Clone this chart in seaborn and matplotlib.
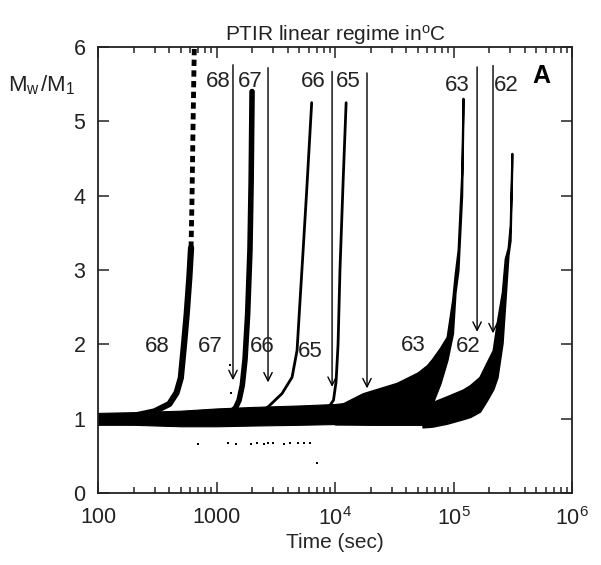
import matplotlib
matplotlib.use("Agg")
import matplotlib.pyplot as plt
import seaborn as sns

# ---- data (time in sec, Mw/M1) ----
# common flat band near Mw/M1 = 1
base_x = [100, 200, 500, 1000, 2000, 5000, 10000, 20000, 55000]
base_lo = [0.92, 0.92, 0.90, 0.90, 0.91, 0.92, 0.93, 0.92, 0.92]
base_hi = [1.08, 1.09, 1.11, 1.14, 1.16, 1.18, 1.2, 1.25, 1.35]

# 68 C
c68_x = [100, 200, 300, 400, 460, 500, 532, 560, 590, 610]
c68_y = [1.0, 1.04, 1.1, 1.2, 1.35, 1.55, 2.0, 2.4, 2.9, 3.3]
c68_dot_x = [610, 622, 632, 642, 650]
c68_dot_y = [3.3, 4.0, 4.8, 5.5, 6.0]

# 67 C
c67_x = [1000, 1250, 1450, 1550, 1650, 1740, 1830, 1915, 1960, 1995]
c67_y = [1.0, 1.05, 1.15, 1.25, 1.45, 1.8, 2.4, 3.27, 4.2, 5.4]

# 66 C
c66_x = [2000, 2720, 3570, 4340, 4780, 5070, 5380, 5770, 6350]
c66_y = [1.05, 1.16, 1.34, 1.56, 1.92, 2.6, 3.27, 4.08, 5.25]

# 65 C
c65_x = [6000, 8500, 9700, 10200, 10600, 11000, 11700, 12400]
c65_y = [1.05, 1.12, 1.25, 1.5, 2.0, 3.0, 4.2, 5.25]

# 63 C (broad band)
c63_x = [10000, 17200, 33300, 50000, 60000, 66000, 77000, 88000, 98000, 103000, 109000, 117000, 120000]
c63_lo = [0.93, 0.93, 0.93, 0.93, 0.93, 1.21, 1.48, 1.79, 2.15, 2.7, 3.0, 4.0, 5.1]
c63_hi = [1.15, 1.34, 1.48, 1.62, 1.72, 1.8, 1.95, 2.1, 2.6, 2.95, 3.27, 4.3, 5.31]

# 62 C (broad band)
c62_x = [55000, 66000, 88000, 120000, 138000, 166000, 190000, 215000, 233000, 257000, 272000, 288000, 300000, 310000]
c62_lo = [0.89, 0.90, 0.94, 1.0, 1.03, 1.1, 1.25, 1.4, 1.56, 2.02, 2.6, 3.2, 3.4, 4.4]
c62_hi = [1.18, 1.22, 1.3, 1.39, 1.45, 1.56, 1.75, 1.92, 2.3, 2.7, 3.15, 3.3, 3.6, 4.57]

# stray points
stray_x = [700, 1250, 1450, 1950, 2200, 2500, 2700, 3000, 3700, 4200, 4900, 5500, 6200, 7100, 1300, 1330]
stray_y = [0.66, 0.67, 0.66, 0.66, 0.67, 0.66, 0.67, 0.67, 0.66, 0.67, 0.67, 0.68, 0.68, 0.40, 1.73, 1.35]

# arrows: x position, top, tip
arrow_x = [1377, 2720, 9440, 18600, 157800, 215000]
arrow_top = [5.76, 5.72, 5.67, 5.65, 5.73, 5.75]
arrow_tip = [1.52, 1.49, 1.43, 1.41, 2.17, 2.15]

# labels
top_lab = ["68", "67", "66", "65", "63", "62"]
top_lab_x = [1030, 1920, 6520, 12800, 107000, 276000]
top_lab_y = [5.53, 5.53, 5.53, 5.53, 5.48, 5.48]
low_lab = ["68", "67", "66", "65", "63", "62"]
low_lab_x = [315, 881, 2410, 6160, 45700, 132000]
low_lab_y = [1.97, 1.97, 1.97, 1.90, 1.99, 1.97]

xticks = [100, 1000, 1e4, 1e5, 1e6]
xtick_labels = ["100", "1000", r"10$^{4}$", r"10$^{5}$", r"10$^{6}$"]
yticks = [0, 1, 2, 3, 4, 5, 6]

# ---- style ----
sns.set_style("ticks")
plt.rcParams["font.family"] = ["Liberation Sans", "DejaVu Sans"]
plt.rcParams["mathtext.fontset"] = "custom"
plt.rcParams["mathtext.rm"] = "Liberation Sans"
plt.rcParams["mathtext.it"] = "Liberation Sans"
plt.rcParams["text.color"] = "#222222"

fig, ax = plt.subplots(figsize=(6.01, 5.65), dpi=100)
fig.subplots_adjust(left=0.163, right=0.952, bottom=0.127, top=0.917)

# bands
ax.fill_between(base_x, base_lo, base_hi, color="black", lw=0.8)
ax.fill_between(c63_x, c63_lo, c63_hi, color="black", lw=1.5)
ax.fill_between(c62_x, c62_lo, c62_hi, color="black", lw=1.5)

# curves
sns.lineplot(x=c68_x, y=c68_y, color="black", lw=4.5, estimator=None, sort=False, ax=ax)
sns.lineplot(x=c68_dot_x, y=c68_dot_y, color="black", lw=3.5, estimator=None, sort=False,
             ls=(0, (1.3, 0.9)), ax=ax)
sns.lineplot(x=c67_x, y=c67_y, color="black", lw=4, estimator=None, sort=False, ax=ax)
sns.lineplot(x=c66_x, y=c66_y, color="black", lw=2, estimator=None, sort=False, ax=ax)
sns.lineplot(x=c65_x, y=c65_y, color="black", lw=2, estimator=None, sort=False, ax=ax)
sns.scatterplot(x=stray_x, y=stray_y, color="black", s=2.5, marker="s", linewidth=0, ax=ax)

# arrows
for x, t, b in zip(arrow_x, arrow_top, arrow_tip):
    ax.annotate("", xy=(x, b), xytext=(x, t),
                arrowprops=dict(arrowstyle="->", color="black", lw=1.0,
                                mutation_scale=15, shrinkA=0, shrinkB=0))

for s, x, y in zip(top_lab, top_lab_x, top_lab_y):
    ax.text(x, y, s, fontsize=16, ha="center", va="center")
for s, x, y in zip(low_lab, low_lab_x, low_lab_y):
    ax.text(x, y, s, fontsize=16, ha="center", va="center")
ax.text(0.935, 0.935, "A", transform=ax.transAxes, fontsize=18, fontweight="bold",
        ha="center", va="center", color="black")
ax.text(-0.118, 0.915, r"M$_{{\rm w}_{\,}}$/M$_{{\rm 1}_{\,}}$", transform=ax.transAxes,
        fontsize=16, ha="center", va="center")

ax.set_xscale("log")
ax.set_xlim(100, 1e6)
ax.set_ylim(0, 6)
ax.set_xticks(xticks)
ax.set_xticklabels(xtick_labels)
ax.set_yticks(yticks)
ax.tick_params(which="both", direction="in", top=True, right=True, labelsize=15.5,
               colors="#222222", width=1.1)
ax.tick_params(which="major", length=8)
ax.tick_params(which="minor", length=4)
ax.tick_params(axis="x", pad=10)
ax.tick_params(axis="y", pad=9)
for sp in ax.spines.values():
    sp.set_linewidth(1.3)
    sp.set_color("#222222")

ax.set_title(r"PTIR linear regime in$^{\rm o}$C", fontsize=15, pad=4)
ax.set_xlabel("Time (sec)", fontsize=15, labelpad=2)
ax.set_ylabel("")

fig.savefig("out.png", dpi=100)
